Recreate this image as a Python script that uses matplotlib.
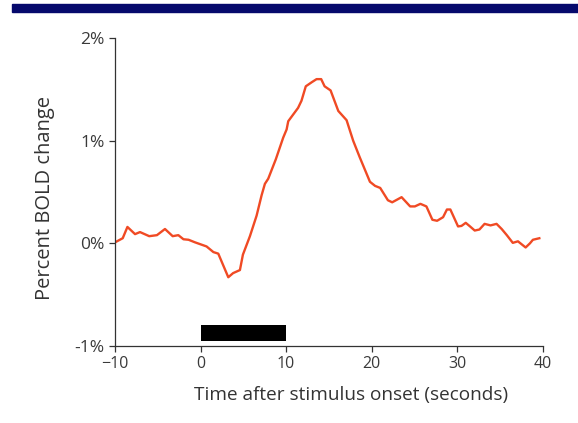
import numpy as np
import matplotlib
matplotlib.use("Agg")
from matplotlib import pyplot as plt
from matplotlib.patches import Rectangle

# time (s) and percent BOLD change
t = [-10, -9.1, -8.55, -7.66, -7.08, -6.0, -5.1, -4.16, -3.26, -2.6, -2.0, -1.4, -0.65,
     0.7, 1.5, 2.07, 3.24, 3.8, 4.6, 4.95, 5.77, 6.55, 7.14, 7.52, 7.91, 8.8, 9.66, 10.06,
     10.25, 11.4, 11.8, 12.3, 13.0, 13.56, 14.1, 14.5, 15.2, 16.1, 17.07, 17.84, 18.6,
     19.2, 19.8, 20.4, 21.0, 21.9, 22.4, 23.5, 24.5, 25.05, 25.7, 26.4, 27.1, 27.65,
     28.35, 28.8, 29.2, 30.1, 30.5, 31.0, 31.5, 32.05, 32.6, 33.2, 33.9, 34.6, 35.2,
     35.8, 36.5, 37.1, 38.0, 38.5, 38.85, 39.6]
bold = [0.01, 0.05, 0.16, 0.09, 0.11, 0.07, 0.08, 0.14, 0.07, 0.08, 0.04, 0.035, 0.01,
        -0.03, -0.085, -0.10, -0.33, -0.29, -0.26, -0.11, 0.07, 0.27, 0.47, 0.58, 0.63, 0.82, 1.03, 1.11,
        1.19, 1.32, 1.39, 1.53, 1.57, 1.60, 1.60, 1.53, 1.49, 1.29, 1.20, 1.0, 0.84,
        0.72, 0.60, 0.56, 0.54, 0.42, 0.40, 0.45, 0.36, 0.36, 0.385, 0.36, 0.23, 0.22,
        0.255, 0.33, 0.33, 0.165, 0.17, 0.20, 0.165, 0.125, 0.135, 0.19, 0.175, 0.19, 0.14,
        0.08, 0.005, 0.02, -0.04, 0.0, 0.035, 0.05]

stim_start = 0
stim_end = 10

xticks = [-10, 0, 10, 20, 30, 40]
yticks = [-1, 0, 1, 2]
ylabels = ["-1%", "0%", "1%", "2%"]

plt.rcParams['font.family'] = ['Open Sans', 'DejaVu Sans']

fig = plt.figure(figsize=(5.78, 4.23), dpi=100)
ax = fig.add_axes([0.199, 0.182, 0.740, 0.728])

# blue band at the top of the slide
fig.patches.append(Rectangle((0.02, 0.972), 0.98, 0.018, transform=fig.transFigure,
                             color="#06096c", zorder=0))

ax.plot(t, bold, color="#f04a24", lw=1.7, solid_joinstyle="round")
ax.add_patch(Rectangle((stim_start, -0.95), stim_end - stim_start, 0.15,
                       facecolor="black", edgecolor="none"))

ax.set_xlim(-10, 40)
ax.set_ylim(-1, 2)
ax.set_xticks(xticks)
ax.set_yticks(yticks)
ax.set_yticklabels(ylabels)

for s in ["top", "right"]:
    ax.spines[s].set_visible(False)
for s in ["left", "bottom"]:
    ax.spines[s].set_color("#333333")
    ax.spines[s].set_linewidth(0.9)
ax.tick_params(colors="#333333", labelcolor="#3a3a3a", length=4, width=0.9)
ax.tick_params(axis="x", labelsize=11.5)
ax.tick_params(axis="y", labelsize=12.5)

ax.set_xlabel("Time after stimulus onset (seconds)", fontsize=13.7, color="#333333",
              labelpad=10, x=0.553)
ax.set_ylabel("Percent BOLD change", fontsize=14.5, color="#333333", labelpad=14, y=0.482)

fig.savefig("out.png", dpi=100)
